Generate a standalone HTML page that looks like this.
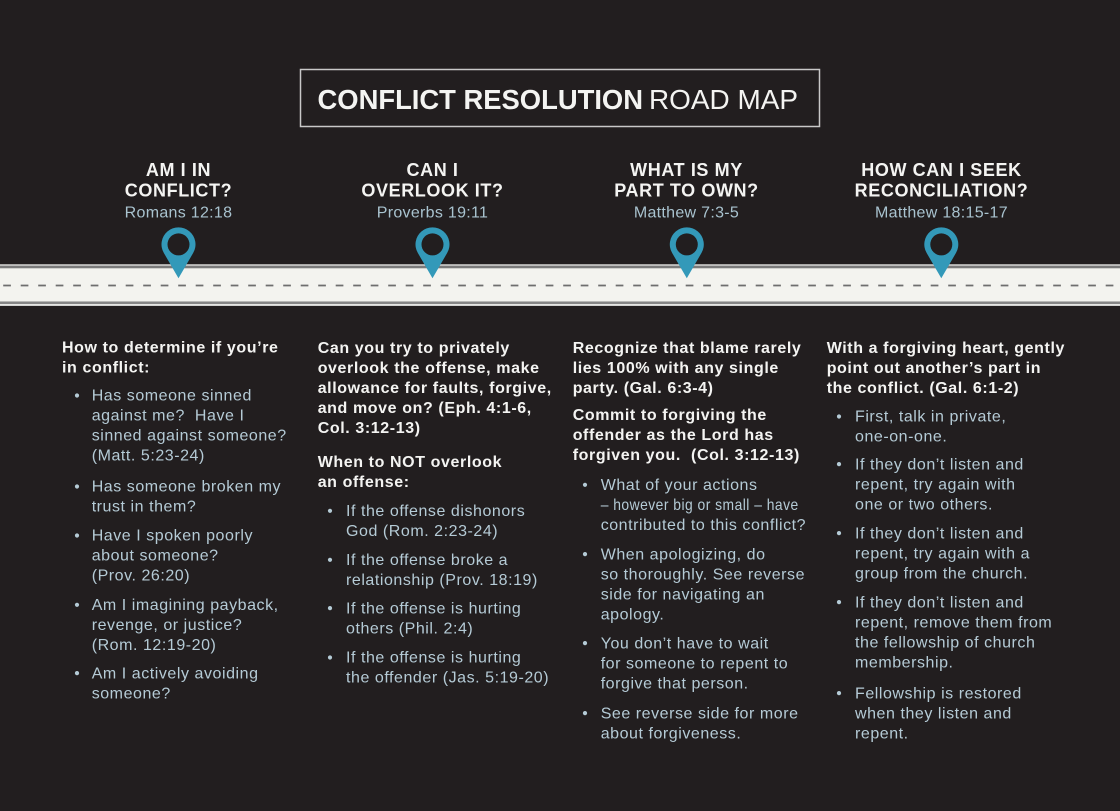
<!DOCTYPE html>
<html>
<head>
<meta charset="utf-8">
<style>
  html,body{margin:0;padding:0;background:#221e1f;}
  svg{display:block;}
  .hd{font-family:"Liberation Sans",Arial,sans-serif;font-weight:bold;font-size:18px;fill:#f4f4f2;letter-spacing:0.6px;}
  .sub{font-family:"Liberation Sans",Arial,sans-serif;font-size:16px;fill:#a9c3cf;letter-spacing:0.3px;}
  .h{font-family:"Liberation Sans",Arial,sans-serif;font-weight:bold;font-size:16px;fill:#f4f4f2;letter-spacing:0.6px;}
  .b{font-family:"Liberation Sans",Arial,sans-serif;font-size:16px;fill:#b5cbd6;letter-spacing:0.55px;}
  .dot{fill:#b5cbd6;}
</style>
</head>
<body>
<svg width="1120" height="811" viewBox="0 0 1120 811" xmlns="http://www.w3.org/2000/svg">
  <rect x="0" y="0" width="1120" height="811" fill="#221e1f"/>

  <!-- Title box -->
  <rect x="300.5" y="69.5" width="519" height="57" fill="none" stroke="#c8c8c8" stroke-width="1.5"/>
  <text x="317.5" y="109" font-family="Liberation Sans, Arial, sans-serif" font-weight="bold" font-size="28" fill="#f4f4f2" textLength="325.5" lengthAdjust="spacingAndGlyphs">CONFLICT RESOLUTION</text>
  <text x="649" y="109" font-family="Liberation Sans, Arial, sans-serif" font-size="28" fill="#f4f4f2" textLength="149" lengthAdjust="spacingAndGlyphs">ROAD MAP</text>

  <!-- Column headers -->
  <g text-anchor="middle">
    <text class="hd" x="178.5" y="176">AM I IN</text>
    <text class="hd" x="178.5" y="196.5">CONFLICT?</text>
    <text class="sub" x="178.5" y="217.7">Romans 12:18</text>

    <text class="hd" x="432.5" y="176">CAN I</text>
    <text class="hd" x="432.5" y="196.5">OVERLOOK IT?</text>
    <text class="sub" x="432.5" y="217.7">Proverbs 19:11</text>

    <text class="hd" x="686.5" y="176">WHAT IS MY</text>
    <text class="hd" x="686.5" y="196.5">PART TO OWN?</text>
    <text class="sub" x="686.5" y="217.7">Matthew 7:3-5</text>

    <text class="hd" x="941.5" y="176">HOW CAN I SEEK</text>
    <text class="hd" x="941.5" y="196.5">RECONCILIATION?</text>
    <text class="sub" x="941.5" y="217.7">Matthew 18:15-17</text>
  </g>

  <!-- Road -->
  <rect x="0" y="264.3" width="1120" height="1.5" fill="#e6e6e4"/>
  <rect x="0" y="266" width="1120" height="2.2" fill="#7a7a7a"/>
  <rect x="0" y="268.2" width="1120" height="33.5" fill="#f3f3ef"/>
  <rect x="0" y="301.7" width="1120" height="2.2" fill="#858585"/>
  <rect x="0" y="303.9" width="1120" height="2" fill="#e6e6e4"/>
  <line x1="0" y1="285.5" x2="1120" y2="285.5" stroke="#6e6e6e" stroke-width="1.8" stroke-dasharray="7.7 9.8" stroke-dashoffset="14.3"/>

  <!-- Pins -->
  <g fill="#3399b9">
    <path d="M178.5 278.3 L163.8 252.9 A17 17 0 1 1 193.2 252.9 Z"/>
    <path d="M432.5 278.3 L417.8 252.9 A17 17 0 1 1 447.2 252.9 Z"/>
    <path d="M686.8 278.3 L672.1 252.9 A17 17 0 1 1 701.5 252.9 Z"/>
    <path d="M941.3 278.3 L926.6 252.9 A17 17 0 1 1 956 252.9 Z"/>
  </g>
  <g fill="#221e1f">
    <circle cx="178.5" cy="244.4" r="11"/>
    <circle cx="432.5" cy="244.4" r="11"/>
    <circle cx="686.8" cy="244.4" r="11"/>
    <circle cx="941.3" cy="244.4" r="11"/>
  </g>

  <!-- Column 1 -->
  <text class="h" x="62" y="352.7">How to determine if you’re</text>
  <text class="h" x="62" y="372.7">in conflict:</text>
  <g class="dot">
    <circle cx="77" cy="395.5" r="2.1"/>
    <circle cx="77" cy="486.5" r="2.1"/>
    <circle cx="77" cy="535.5" r="2.1"/>
    <circle cx="77" cy="604.8" r="2.1"/>
    <circle cx="77" cy="673.1" r="2.1"/>
  </g>
  <text class="b" x="91.7" y="400.7">Has someone sinned</text>
  <text class="b" x="91.7" y="420.7">against me?&#160; Have I</text>
  <text class="b" x="91.7" y="440.7">sinned against someone?</text>
  <text class="b" x="91.7" y="460.7">(Matt. 5:23-24)</text>
  <text class="b" x="91.7" y="491.7">Has someone broken my</text>
  <text class="b" x="91.7" y="511.7">trust in them?</text>
  <text class="b" x="91.7" y="540.7">Have I spoken poorly</text>
  <text class="b" x="91.7" y="560.7">about someone?</text>
  <text class="b" x="91.7" y="580.7">(Prov. 26:20)</text>
  <text class="b" x="91.7" y="610">Am I imagining payback,</text>
  <text class="b" x="91.7" y="630">revenge, or justice?</text>
  <text class="b" x="91.7" y="650">(Rom. 12:19-20)</text>
  <text class="b" x="91.7" y="678.3">Am I actively avoiding</text>
  <text class="b" x="91.7" y="698.3">someone?</text>

  <!-- Column 2 -->
  <text class="h" x="317.7" y="353">Can you try to privately</text>
  <text class="h" x="317.7" y="373">overlook the offense, make</text>
  <text class="h" x="317.7" y="393">allowance for faults, forgive,</text>
  <text class="h" x="317.7" y="413">and move on? (Eph. 4:1-6,</text>
  <text class="h" x="317.7" y="433">Col. 3:12-13)</text>
  <text class="h" x="317.7" y="467">When to NOT overlook</text>
  <text class="h" x="317.7" y="487">an offense:</text>
  <g class="dot">
    <circle cx="330" cy="510.8" r="2.1"/>
    <circle cx="330" cy="559.8" r="2.1"/>
    <circle cx="330" cy="608.1" r="2.1"/>
    <circle cx="330" cy="657.5" r="2.1"/>
  </g>
  <text class="b" x="346" y="516">If the offense dishonors</text>
  <text class="b" x="346" y="536">God (Rom. 2:23-24)</text>
  <text class="b" x="346" y="565">If the offense broke a</text>
  <text class="b" x="346" y="585">relationship (Prov. 18:19)</text>
  <text class="b" x="346" y="613.3">If the offense is hurting</text>
  <text class="b" x="346" y="633.3">others (Phil. 2:4)</text>
  <text class="b" x="346" y="662.7">If the offense is hurting</text>
  <text class="b" x="346" y="682.7">the offender (Jas. 5:19-20)</text>

  <!-- Column 3 -->
  <text class="h" x="572.7" y="353">Recognize that blame rarely</text>
  <text class="h" x="572.7" y="373">lies 100% with any single</text>
  <text class="h" x="572.7" y="393">party. (Gal. 6:3-4)</text>
  <text class="h" x="572.7" y="420">Commit to forgiving the</text>
  <text class="h" x="572.7" y="440">offender as the Lord has</text>
  <text class="h" x="572.7" y="460">forgiven you.&#160; (Col. 3:12-13)</text>
  <g class="dot">
    <circle cx="585" cy="484.8" r="2.1"/>
    <circle cx="585" cy="554.1" r="2.1"/>
    <circle cx="585" cy="643.1" r="2.1"/>
    <circle cx="585" cy="713.1" r="2.1"/>
  </g>
  <text class="b" x="600.7" y="490">What of your actions</text>
  <text class="b" x="600.7" y="510" textLength="198" lengthAdjust="spacingAndGlyphs">– however big or small – have</text>
  <text class="b" x="600.7" y="530">contributed to this conflict?</text>
  <text class="b" x="600.7" y="559.3">When apologizing, do</text>
  <text class="b" x="600.7" y="579.3">so thoroughly. See reverse</text>
  <text class="b" x="600.7" y="599.3">side for navigating an</text>
  <text class="b" x="600.7" y="619.3">apology.</text>
  <text class="b" x="600.7" y="648.3">You don’t have to wait</text>
  <text class="b" x="600.7" y="668.3">for someone to repent to</text>
  <text class="b" x="600.7" y="688.3">forgive that person.</text>
  <text class="b" x="600.7" y="718.3">See reverse side for more</text>
  <text class="b" x="600.7" y="738.3">about forgiveness.</text>

  <!-- Column 4 -->
  <text class="h" x="826.7" y="353">With a forgiving heart, gently</text>
  <text class="h" x="826.7" y="373">point out another’s part in</text>
  <text class="h" x="826.7" y="393">the conflict. (Gal. 6:1-2)</text>
  <g class="dot">
    <circle cx="839" cy="416.5" r="2.1"/>
    <circle cx="839" cy="464.1" r="2.1"/>
    <circle cx="839" cy="533.1" r="2.1"/>
    <circle cx="839" cy="602.1" r="2.1"/>
    <circle cx="839" cy="693.1" r="2.1"/>
  </g>
  <text class="b" x="855" y="421.7">First, talk in private,</text>
  <text class="b" x="855" y="441.7">one-on-one.</text>
  <text class="b" x="855" y="469.3">If they don’t listen and</text>
  <text class="b" x="855" y="489.3">repent, try again with</text>
  <text class="b" x="855" y="509.3">one or two others.</text>
  <text class="b" x="855" y="538.3">If they don’t listen and</text>
  <text class="b" x="855" y="558.3">repent, try again with a</text>
  <text class="b" x="855" y="578.3">group from the church.</text>
  <text class="b" x="855" y="607.3">If they don’t listen and</text>
  <text class="b" x="855" y="627.3">repent, remove them from</text>
  <text class="b" x="855" y="647.3">the fellowship of church</text>
  <text class="b" x="855" y="667.3">membership.</text>
  <text class="b" x="855" y="698.3">Fellowship is restored</text>
  <text class="b" x="855" y="718.3">when they listen and</text>
  <text class="b" x="855" y="738.3">repent.</text>
</svg>
</body>
</html>
